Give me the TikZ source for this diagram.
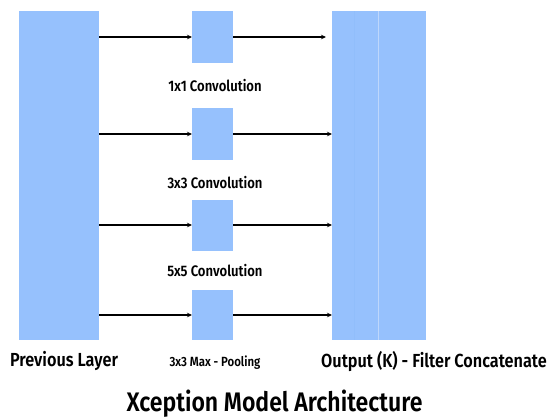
\documentclass[tikz,border=0pt]{standalone}
\usepackage{fontspec}
\setmainfont{Fira Sans}
\newfontfamily\labelfont[FakeStretch=0.86]{Fira Sans SemiBold}
\usetikzlibrary{arrows.meta}
\definecolor{layerblue}{RGB}{150,193,253}
\definecolor{seamblue}{RGB}{190,215,252}
\definecolor{faintblue}{RGB}{145,190,251}
\tikzset{
  layer/.style={fill=layerblue, draw=none, inner sep=0pt, outer sep=0pt},
  arr/.style={line width=1.3pt, -{Stealth[length=5pt,width=4.5pt]}},
  small/.style={font=\labelfont\fontsize{15.2}{17}\selectfont, inner sep=0pt},
  pool/.style={font=\labelfont\fontsize{13.3}{15}\selectfont, inner sep=0pt},
  caption/.style={font=\labelfont\fontsize{18.9}{21}\selectfont, inner sep=0pt},
  headline/.style={font=\labelfont\fontsize{26.8}{30}\selectfont, inner sep=0pt}
}
\begin{document}
\begin{tikzpicture}[x=1pt,y=-1pt]
\useasboundingbox[fill=white] (0,0) rectangle (549,418);

% input layer and concatenated output
\node[layer, minimum width=80pt, minimum height=329pt] (prev) at (59,175.5) {};
\node[layer, minimum width=94pt, minimum height=329pt] (out) at (379,175.5) {};
\draw[faintblue, line width=0.6pt] (354,11) -- (354,340);
\draw[seamblue, line width=1pt] (378,11) -- (378,340);

% parallel branches
\node[layer, minimum width=41pt, minimum height=52pt] (b1) at (212.5,37) {};
\node[layer, minimum width=41pt, minimum height=52pt] (b2) at (212.5,134) {};
\node[layer, minimum width=41pt, minimum height=51pt] (b3) at (212.5,225) {};
\node[layer, minimum width=41pt, minimum height=50pt] (b4) at (212.5,315) {};

% connectors
\foreach \b in {b1,b2,b3,b4}{
  \draw[arr] (prev.east |- \b) -- (\b.west);
}
\draw[arr, shorten >=6pt] (b1.east) -- (out.west |- b1);
\foreach \b in {b2,b3,b4}{
  \draw[arr] (\b.east) -- (out.west |- \b);
}

% labels
\node[small] (l1) at (215,86) {1x1 Convolution};
\node[small] (l2) at (215,183) {3x3 Convolution};
\node[small] (l3) at (215,271) {5x5 Convolution};
\node[pool] (l4) at (215,363) {3x3 Max - Pooling};
\node[caption] (lp) at (64,361) {Previous Layer};
\node[caption] (lo) at (434,361) {Output (K) - Filter Concatenate};
\node[headline] (title) at (274.5,404) {Xception Model Architecture};
\end{tikzpicture}
\end{document}
